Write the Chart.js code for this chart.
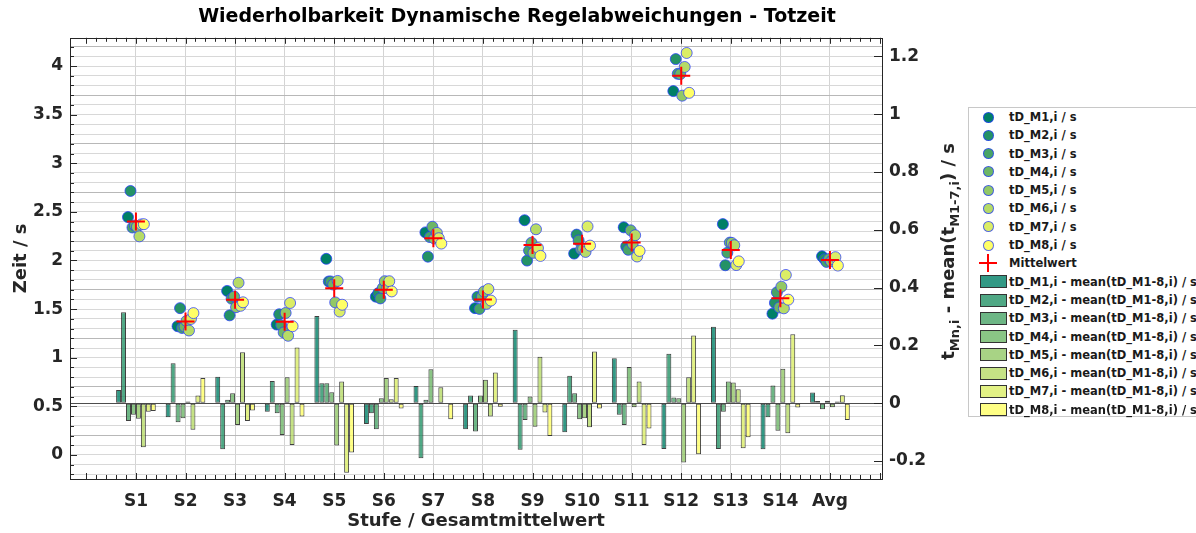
<!DOCTYPE html>
<html lang="de">
<head>
<meta charset="utf-8">
<title>Wiederholbarkeit Dynamische Regelabweichungen - Totzeit</title>
<script src="https://cdn.jsdelivr.net/npm/chart.js@4.4.1/dist/chart.umd.min.js"></script>
<style>
  html, body { margin: 0; padding: 0; background: #fff; }
  body { width: 1196px; height: 533px; overflow: hidden; position: relative; font-family: 'DejaVu Sans', sans-serif; }
  #grafico { position: absolute; left: 0; top: 0; }
  #leyenda { position: absolute; left: 968px; top: 107px; width: 260px; height: 310px; border: 1px solid #c8c8c8; background: #fff; box-sizing: border-box; }
  .fila { position: relative; height: 18.3px; }
  .texto { position: absolute; left: 40px; top: 0; line-height: 18.3px; font-size: 11.5px; font-weight: bold; color: #1a1a1a; white-space: nowrap; }
  .punto { position: absolute; left: 13.5px; top: 3.5px; width: 11px; height: 11px; border-radius: 50%; box-sizing: border-box; border: 1px solid rgba(40,60,255,0.75); }
  .barra { position: absolute; left: 11px; top: 2.6px; width: 27px; height: 13px; box-sizing: border-box; border: 1px solid #333; }
  .cruz { position: absolute; left: 10px; top: 0; width: 18px; height: 18px; }
  .cruz::before { content: ''; position: absolute; left: 0; top: 8px; width: 18px; height: 2px; background: #ff0000; }
  .cruz::after { content: ''; position: absolute; left: 8px; top: 0; width: 2px; height: 18px; background: #ff0000; }
</style>
</head>
<body>
<canvas id="grafico" width="1034" height="533"></canvas>
<div id="leyenda"></div>
<script>
//Datos
const categorias = ['S1', 'S2', 'S3', 'S4', 'S5', 'S6', 'S7', 'S8', 'S9', 'S10', 'S11', 'S12', 'S13', 'S14', 'Avg'];
const mittelwert = [2.40, 1.372, 1.595, 1.37, 1.715, 1.70, 2.229, 1.60, 2.16, 2.171, 2.185, 3.90, 2.109, 1.612, 2.006];

// Messwerte tD_Mk,i / s
const tD_M1 = [2.446, 1.324, 1.687, 1.341, 2.017, 1.628, 2.289, 1.51, 2.414, 2.071, 2.341, 3.742, 2.374, 1.453, 2.043];
const tD_M2 = [2.715, 1.51, 1.436, 1.447, 1.784, 1.665, 2.039, 1.627, 1.999, 2.266, 2.145, 4.071, 1.951, 1.564, 2.014];
const tD_M3 = [2.339, 1.306, 1.607, 1.335, 1.784, 1.61, 2.241, 1.502, 2.102, 2.206, 2.11, 3.92, 2.08, 1.673, 1.985];
const tD_M4 = [2.36, 1.32, 1.63, 1.26, 1.753, 1.717, 2.347, 1.627, 2.183, 2.116, 2.31, 3.917, 2.184, 1.517, 2.015];
const tD_M5 = [2.346, 1.378, 1.52, 1.46, 1.569, 1.787, 2.226, 1.681, 2.079, 2.119, 2.171, 3.695, 2.181, 1.731, 1.992];
const tD_M6 = [2.248, 1.28, 1.771, 1.226, 1.79, 1.714, 2.284, 1.554, 2.321, 2.088, 2.26, 3.99, 2.157, 1.508, 2.012];
const tD_M7 = [2.371, 1.399, 1.534, 1.563, 1.475, 1.787, 2.229, 1.706, 2.128, 2.35, 2.041, 4.134, 1.953, 1.851, 2.034];
const tD_M8 = [2.373, 1.459, 1.57, 1.324, 1.545, 1.682, 2.174, 1.588, 2.047, 2.153, 2.098, 3.724, 1.991, 1.597, 1.948];

// Abweichungen vom Mittelwert / s
const abw_M1 = [0.046, -0.048, 0.092, -0.029, 0.302, -0.072, 0.06, -0.09, 0.254, -0.1, 0.156, -0.158, 0.265, -0.159, 0.037];
const abw_M2 = [0.315, 0.138, -0.159, 0.077, 0.069, -0.035, -0.19, 0.027, -0.161, 0.095, -0.04, 0.171, -0.158, -0.048, 0.008];
const abw_M3 = [-0.061, -0.066, 0.012, -0.035, 0.069, -0.09, 0.012, -0.098, -0.058, 0.035, -0.075, 0.02, -0.029, 0.061, -0.021];
const abw_M4 = [-0.04, -0.052, 0.035, -0.11, 0.038, 0.017, 0.118, 0.027, 0.023, -0.055, 0.125, 0.017, 0.075, -0.095, 0.009];
const abw_M5 = [-0.054, 0.006, -0.075, 0.09, -0.146, 0.087, -0.003, 0.081, -0.081, -0.052, -0.014, -0.205, 0.072, 0.119, -0.014];
const abw_M6 = [-0.152, -0.092, 0.176, -0.144, 0.075, 0.014, 0.055, -0.046, 0.161, -0.083, 0.075, 0.09, 0.048, -0.104, 0.006];
const abw_M7 = [-0.029, 0.027, -0.061, 0.193, -0.24, 0.087, 0.0, 0.106, -0.032, 0.179, -0.144, 0.234, -0.156, 0.239, 0.028];
const abw_M8 = [-0.027, 0.087, -0.025, -0.046, -0.17, -0.018, -0.055, -0.012, -0.113, -0.018, -0.087, -0.176, -0.118, -0.015, -0.058];

const messungen = [tD_M1, tD_M2, tD_M3, tD_M4, tD_M5, tD_M6, tD_M7, tD_M8];
const abweichungen = [abw_M1, abw_M2, abw_M3, abw_M4, abw_M5, abw_M6, abw_M7, abw_M8];

// Versatz der Punkte je Messung (Einheiten der x-Achse)
const versatz = [-0.16, -0.11, -0.07, -0.02, 0.02, 0.07, 0.11, 0.16];

/**
 * Farbe der Messung k (Farbtabelle "summer")
 */
function farbe(k, alpha) {
    const r = Math.round(255 * k / 7);
    const g = Math.round(255 * (0.5 + 0.5 * k / 7));
    return `rgba(${r}, ${g}, 102, ${alpha})`;
}

const fuente = "'DejaVu Sans', sans-serif";
Chart.defaults.font.family = fuente;
Chart.defaults.font.weight = 'bold';
Chart.defaults.color = '#262626';

const cerca = (v, paso) => Math.abs(v / paso - Math.round(v / paso)) < 1e-6;

//Conjuntos de datos
const datasets = [];
datasets.push({
    type: 'scatter',
    label: 'Mittelwert',
    data: mittelwert.map((v, i) => ({ x: i + 1, y: v })),
    yAxisID: 'y',
    pointStyle: 'cross',
    pointRadius: 9,
    pointBorderWidth: 2,
    borderColor: '#ff0000',
    backgroundColor: '#ff0000',
    order: 0
});
messungen.forEach((serie, k) => {
    datasets.push({
        type: 'scatter',
        label: `tD_M${k + 1},i / s`,
        data: serie.map((v, i) => ({ x: i + 1 + versatz[k], y: v })),
        yAxisID: 'y',
        pointRadius: 5.5,
        pointBorderWidth: 1,
        backgroundColor: farbe(k, 1),
        borderColor: 'rgba(40, 60, 255, 0.75)',
        order: 8 - k
    });
});
abweichungen.forEach((serie, k) => {
    datasets.push({
        type: 'bar',
        label: `tD_M${k + 1},i - mean(tD_M1-8,i) / s`,
        data: serie.map((v, i) => ({ x: i + 1, y: v })),
        yAxisID: 'y2',
        backgroundColor: farbe(k, 0.8),
        borderColor: 'rgba(30, 30, 30, 0.85)',
        borderWidth: 1,
        borderSkipped: false,
        categoryPercentage: 0.8,
        barPercentage: 1,
        order: 11 + k
    });
});

// Rahmen und Teilstriche nach innen
const marco = {
    id: 'marco',
    afterDraw(chart) {
        const { ctx, chartArea: a, scales } = chart;
        ctx.save();
        ctx.strokeStyle = '#262626';
        ctx.lineWidth = 1;
        ctx.beginPath();
        for (let k = 0; k <= 80; k++) {
            const px = Math.round(scales.x.getPixelForValue(k / 5)) + 0.5;
            const len = k % 5 === 0 ? 6 : 4;
            ctx.moveTo(px, a.bottom); ctx.lineTo(px, a.bottom - len);
            ctx.moveTo(px, a.top); ctx.lineTo(px, a.top + len);
        }
        for (let k = -2; k <= 42; k++) {
            const py = Math.round(scales.y.getPixelForValue(k / 10)) + 0.5;
            const len = k % 5 === 0 ? 7 : 4;
            ctx.moveTo(a.left, py); ctx.lineTo(a.left + len, py);
        }
        for (let k = -1; k <= 6; k++) {
            const py = Math.round(scales.y2.getPixelForValue(k / 5)) + 0.5;
            ctx.moveTo(a.right, py); ctx.lineTo(a.right - 8, py);
        }
        ctx.stroke();
        ctx.strokeRect(Math.round(a.left) + 0.5, Math.round(a.top) + 0.5,
            Math.round(a.right - a.left), Math.round(a.bottom - a.top));
        ctx.restore();
    }
};

// Titel der rechten Achse mit Indizes
const tituloDerecho = {
    id: 'tituloDerecho',
    afterDraw(chart) {
        const { ctx, chartArea: a } = chart;
        const partes = [['t', false], ['Mn,i', true], [' - mean(t', false], ['M1-7,i', true], [') / s', false]];
        const fNormal = `bold 18px ${fuente}`;
        const fIndice = `bold 13px ${fuente}`;
        ctx.save();
        let total = 0;
        partes.forEach(([t, sub]) => { ctx.font = sub ? fIndice : fNormal; total += ctx.measureText(t).width; });
        ctx.translate(a.right + 72, (a.top + a.bottom) / 2 - 7);
        ctx.rotate(-Math.PI / 2);
        ctx.fillStyle = '#262626';
        ctx.textBaseline = 'alphabetic';
        let x = -total / 2;
        partes.forEach(([t, sub]) => {
            ctx.font = sub ? fIndice : fNormal;
            ctx.fillText(t, x, sub ? 5 : 0);
            x += ctx.measureText(t).width;
        });
        ctx.restore();
    }
};

const grafico = new Chart(document.getElementById('grafico').getContext('2d'), {
    type: 'bar',
    data: { datasets: datasets },
    options: {
        responsive: false,
        animation: false,
        events: [],
        plugins: {
            legend: { display: false },
            tooltip: { enabled: false },
            title: {
                display: true,
                text: 'Wiederholbarkeit Dynamische Regelabweichungen - Totzeit',
                color: '#000',
                font: { size: 19, weight: 'bold' },
                padding: { top: 6, bottom: 9 }
            }
        },
        scales: {
            x: {
                type: 'linear',
                position: 'bottom',
                min: -0.33,
                max: 16.05,
                offset: false,
                grid: {
                    offset: false,
                    drawTicks: false,
                    color: c => (c.tick && Number.isInteger(c.tick.value) && c.tick.value >= 1 && c.tick.value <= 15) ? '#d4d4d4' : 'transparent'
                },
                border: { display: false },
                ticks: {
                    stepSize: 1,
                    includeBounds: false,
                    autoSkip: false,
                    maxRotation: 0,
                    padding: 12,
                    font: { size: 17, weight: 'bold' },
                    callback: v => (Number.isInteger(v) && v >= 1 && v <= 15) ? categorias[v - 1] : ''
                },
                title: {
                    display: true,
                    text: 'Stufe / Gesamtmittelwert',
                    font: { size: 18, weight: 'bold' },
                    padding: { top: 0, bottom: 1 }
                },
                afterFit: s => { s.height = 54; }
            },
            y: {
                position: 'left',
                min: -0.247,
                max: 4.29,
                grid: {
                    drawTicks: false,
                    color: c => {
                        const v = c.tick.value;
                        if (!cerca(v, 0.1)) return 'transparent';
                        return cerca(v - 0.2, 0.5) ? '#b8b8b8' : '#d8d8d8';
                    }
                },
                border: { display: false },
                ticks: {
                    stepSize: 0.1,
                    includeBounds: false,
                    autoSkip: false,
                    padding: 7,
                    font: { size: 17, weight: 'bold' },
                    callback: v => cerca(v, 0.5) ? String(Number(v.toFixed(1))) : ''
                },
                title: {
                    display: true,
                    text: 'Zeit / s',
                    font: { size: 18, weight: 'bold' },
                    padding: { top: 11, bottom: 0 }
                },
                afterFit: s => { s.width = 70; }
            },
            y2: {
                position: 'right',
                min: -0.262,
                max: 1.264,
                grid: {
                    drawTicks: false,
                    color: c => (Math.abs(c.tick.value) < 1e-6) ? '#4d4d4d' : 'transparent'
                },
                border: { display: false },
                ticks: {
                    stepSize: 0.2,
                    includeBounds: false,
                    autoSkip: false,
                    padding: 7,
                    font: { size: 17, weight: 'bold' },
                    callback: v => cerca(v, 0.2) ? String(Number(v.toFixed(1))) : ''
                },
                afterFit: s => { s.width = 152; }
            }
        }
    },
    plugins: [marco, tituloDerecho]
});

/**
 * Legende als HTML
 */
function construirLeyenda() {
    const caja = document.getElementById('leyenda');
    const fila = (marca, texto) => {
        const f = document.createElement('div');
        f.className = 'fila';
        f.appendChild(marca);
        const t = document.createElement('span');
        t.className = 'texto';
        t.textContent = texto;
        f.appendChild(t);
        caja.appendChild(f);
    };
    messungen.forEach((s, k) => {
        const m = document.createElement('span');
        m.className = 'punto';
        m.style.background = farbe(k, 1);
        fila(m, `tD_M${k + 1},i / s`);
    });
    const cruz = document.createElement('span');
    cruz.className = 'cruz';
    fila(cruz, 'Mittelwert');
    abweichungen.forEach((s, k) => {
        const m = document.createElement('span');
        m.className = 'barra';
        m.style.background = farbe(k, 0.8);
        fila(m, `tD_M${k + 1},i - mean(tD_M1-8,i) / s`);
    });
}

construirLeyenda();
</script>
</body>
</html>
